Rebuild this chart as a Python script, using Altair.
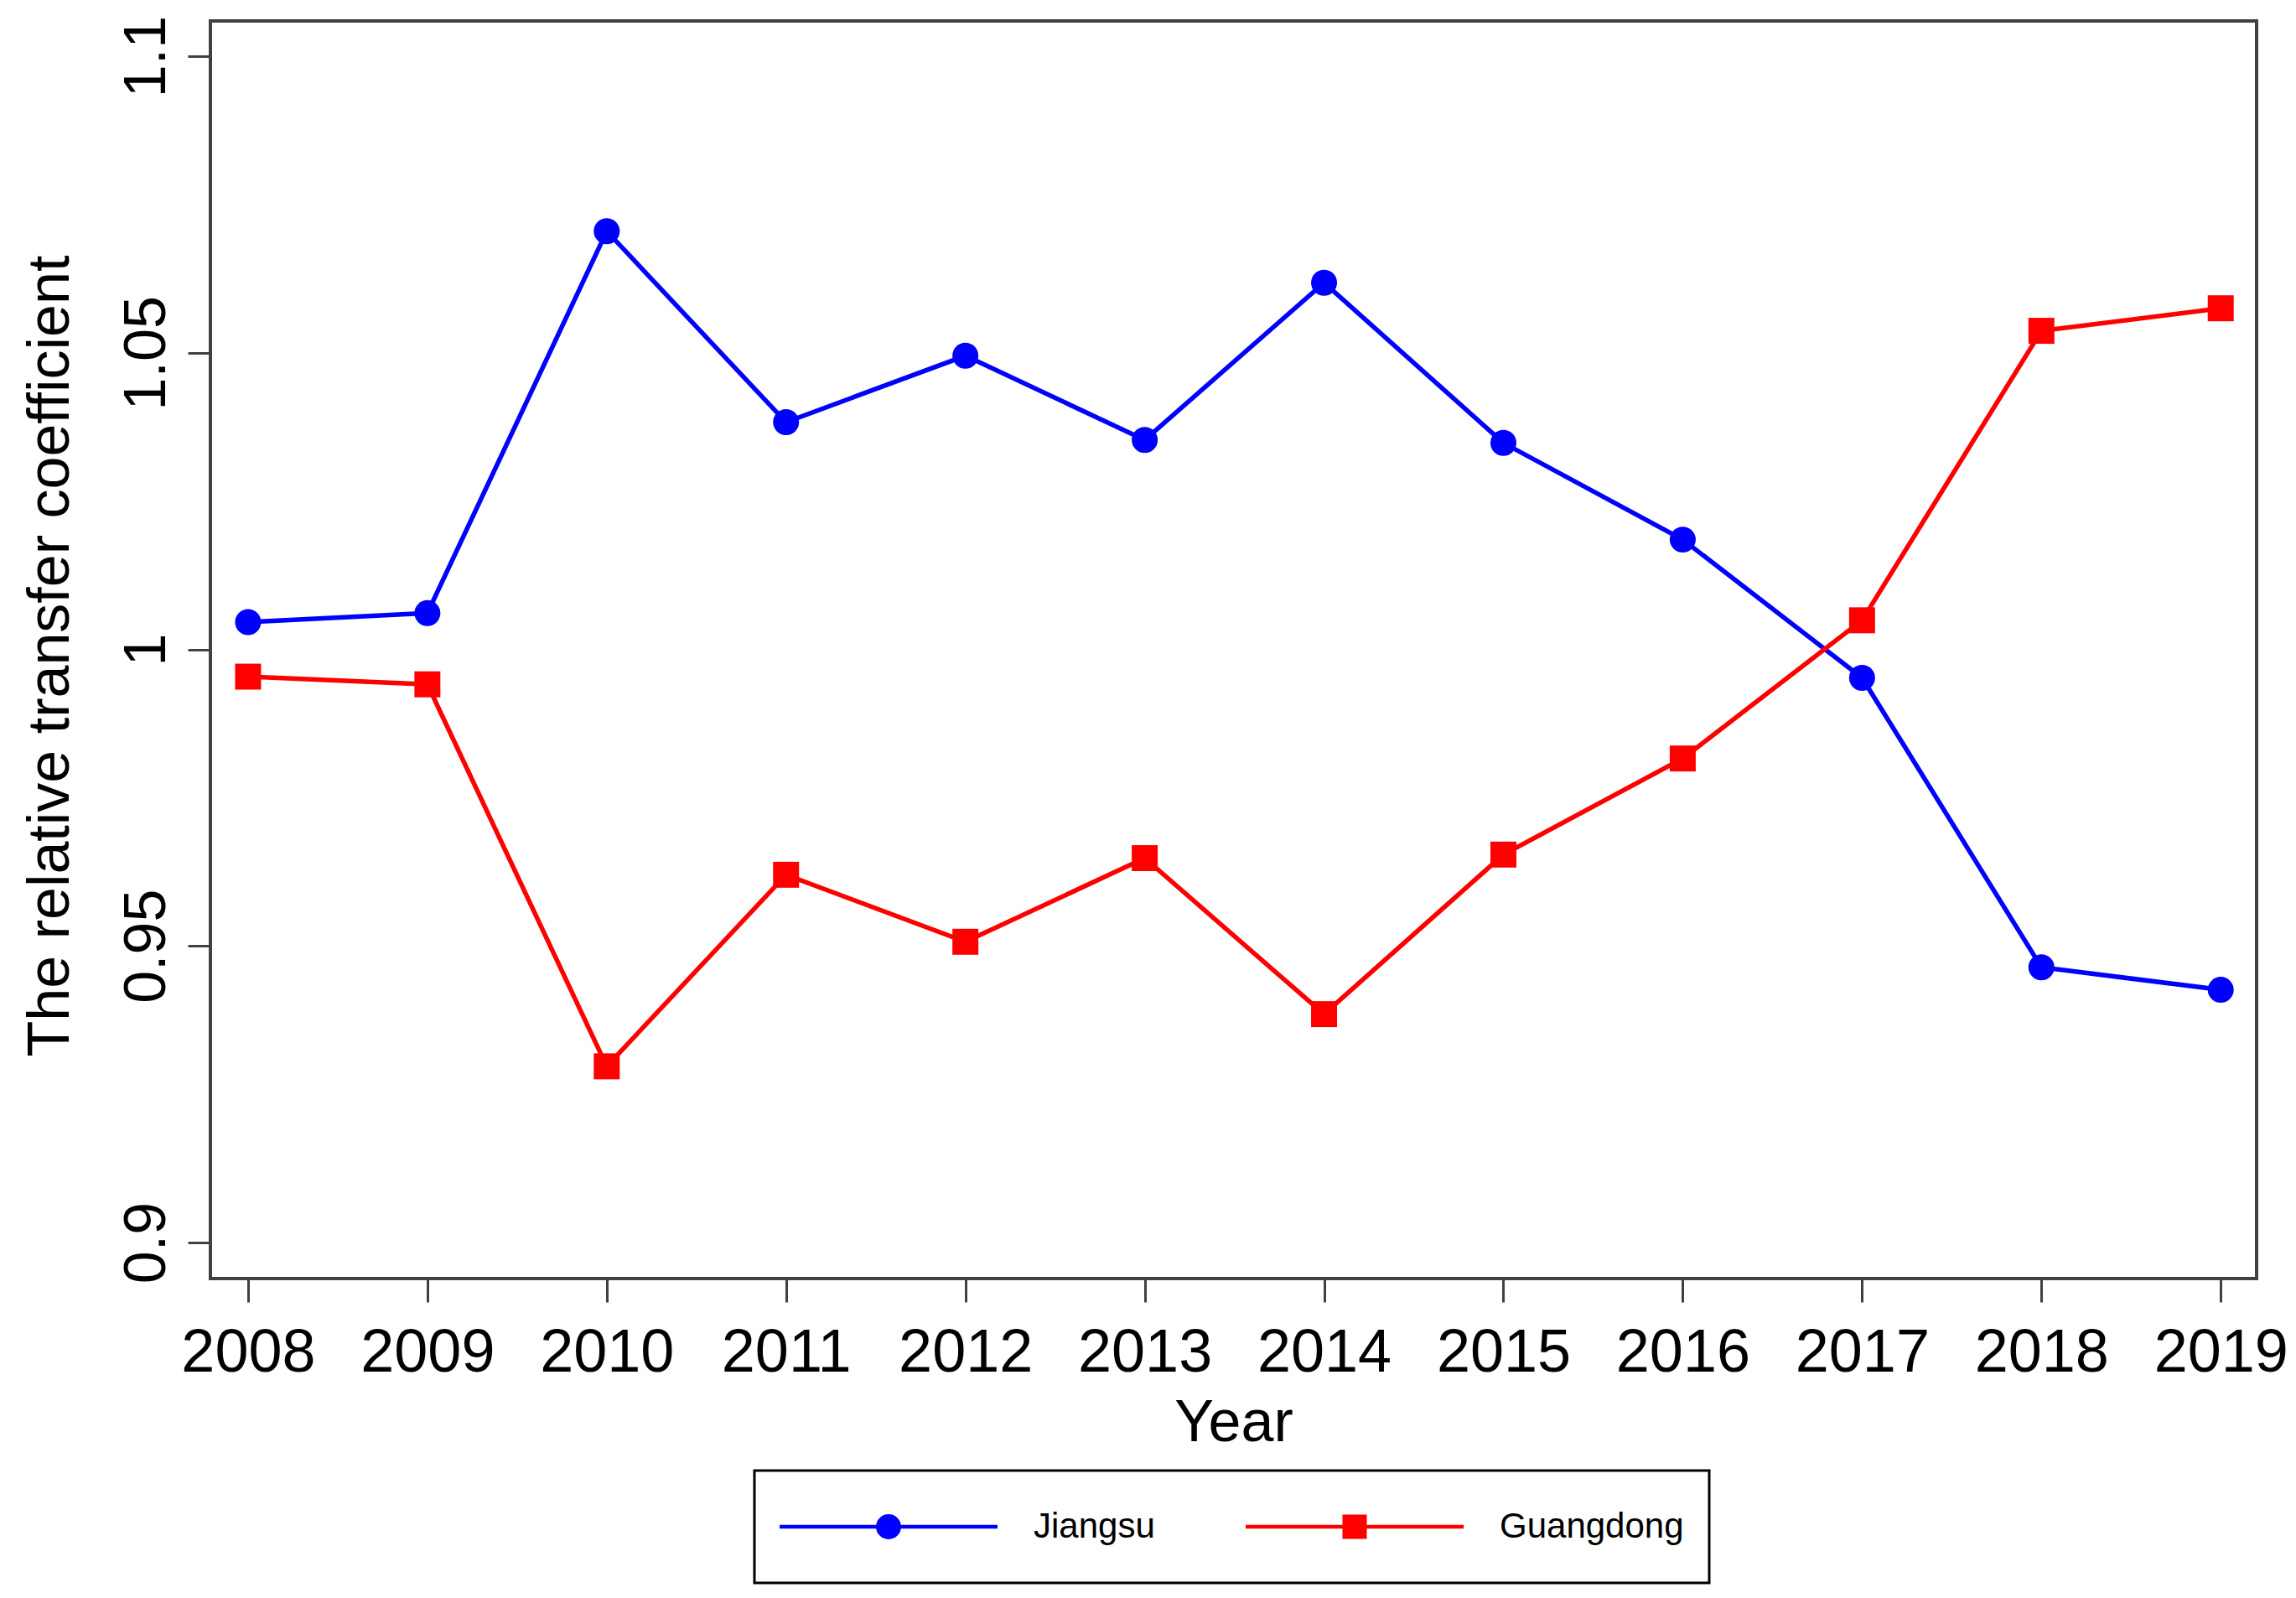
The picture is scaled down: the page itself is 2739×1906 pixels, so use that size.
import altair as alt
import pandas as pd

# ---- data ----
years = [2008, 2009, 2010, 2011, 2012, 2013, 2014, 2015, 2016, 2017, 2018, 2019]
jiangsu = [1.0046, 1.0061, 1.0705, 1.0383, 1.0495, 1.0353, 1.0618, 1.0348, 1.0185, 0.9952, 0.9464, 0.9426]
guangdong = [0.9954, 0.9941, 0.9297, 0.9620, 0.9507, 0.9648, 0.9385, 0.9654, 0.9816, 1.0049, 1.0537, 1.0575]

series_names = ["Jiangsu", "Guangdong"]
series_colors = ["#0000FF", "#FF0000"]
series_shapes = ["circle", "square"]
y_ticks = [0.9, 0.95, 1, 1.05, 1.1]

# legend symbols: a line with the marker in its middle (unit = sqrt(symbolSize)/2)
legend_paths = [
    "M-3.741,0L3.741,0M-0.367,0A0.367,0.367,0,1,1,0.367,0A0.367,0.367,0,1,1,-0.367,0Z",
    "M-3.741,0L3.741,0M-0.353,-0.353L0.353,-0.353L0.353,0.353L-0.353,0.353Z",
]

df = pd.DataFrame({
    "Year": years + years,
    "Value": jiangsu + guangdong,
    "Region": [series_names[0]] * len(years) + [series_names[1]] * len(years),
})

FONT = "Liberation Sans"

x = alt.X(
    "Year:Q",
    scale=alt.Scale(domain=[2007.79, 2019.2], nice=False, zero=False),
    axis=alt.Axis(
        values=years, format="d", title="Year",
        tickSize=28, labelPadding=25, labelFontSize=72, labelFlush=False, labelOverlap=False,
        titleFontSize=70, titleBaseline="alphabetic", titleY=193,
    ),
)
y = alt.Y(
    "Value:Q",
    scale=alt.Scale(domain=[0.89392, 1.10594], nice=False, zero=False),
    axis=alt.Axis(
        values=y_ticks, format="~g", title="The relative transfer coefficient",
        tickSize=27, labelPadding=28, labelAngle=270, labelAlign="center",
        labelBaseline="alphabetic", labelFontSize=70, labelFlush=False, labelOverlap=False,
        titleFontSize=70, titleAngle=270, titleAlign="center", titleBaseline="alphabetic",
        titleX=-170, titleY=757,
    ),
)

layers = []
for name, color, shape in zip(series_names, series_colors, series_shapes):
    base = alt.Chart(df).transform_filter(alt.datum.Region == name)
    layers.append(base.mark_line(color=color, strokeWidth=5.5).encode(x=x, y=y))
    layers.append(
        base.mark_point(shape=shape, filled=True, color=color, size=960, opacity=1, strokeWidth=0)
        .encode(x=x, y=y)
    )

legend_def = alt.Legend(
    title=None, orient="none", legendX=649, legendY=1729, direction="horizontal",
    symbolSize=4830, symbolStrokeWidth=4.5, symbolOpacity=1, symbolOffset=93,
    labelOffset=136, labelFontSize=42, labelFont=FONT, labelColor="black", labelLimit=600,
    columnPadding=108, padding=30, clipHeight=74, strokeColor="black",
)

legend_layer = alt.Chart(df).mark_point(filled=True, opacity=0, size=900).encode(
    x=x, y=y,
    color=alt.Color("Region:N", scale=alt.Scale(domain=series_names, range=series_colors), legend=legend_def),
    stroke=alt.Stroke("Region:N", scale=alt.Scale(domain=series_names, range=series_colors), legend=legend_def),
    shape=alt.Shape("Region:N", scale=alt.Scale(domain=series_names, range=legend_paths), legend=legend_def),
)

chart = (
    alt.layer(*layers, legend_layer)
    .properties(
        width=2441, height=1500,
        padding={"left": 243, "top": 17, "right": 39, "bottom": 380},
        autosize=alt.AutoSizeParams(type="none"),
    )
    .configure_view(stroke="#404040", strokeWidth=4)
    .configure_axis(
        domain=False, grid=False, tickColor="#404040", tickWidth=3,
        labelColor="black", titleColor="black", labelFont=FONT, titleFont=FONT,
        titleFontWeight="normal",
    )
    .configure_legend(strokeWidth=3)
)

chart.save("out.html", embed_options={"renderer": "svg", "actions": False})
